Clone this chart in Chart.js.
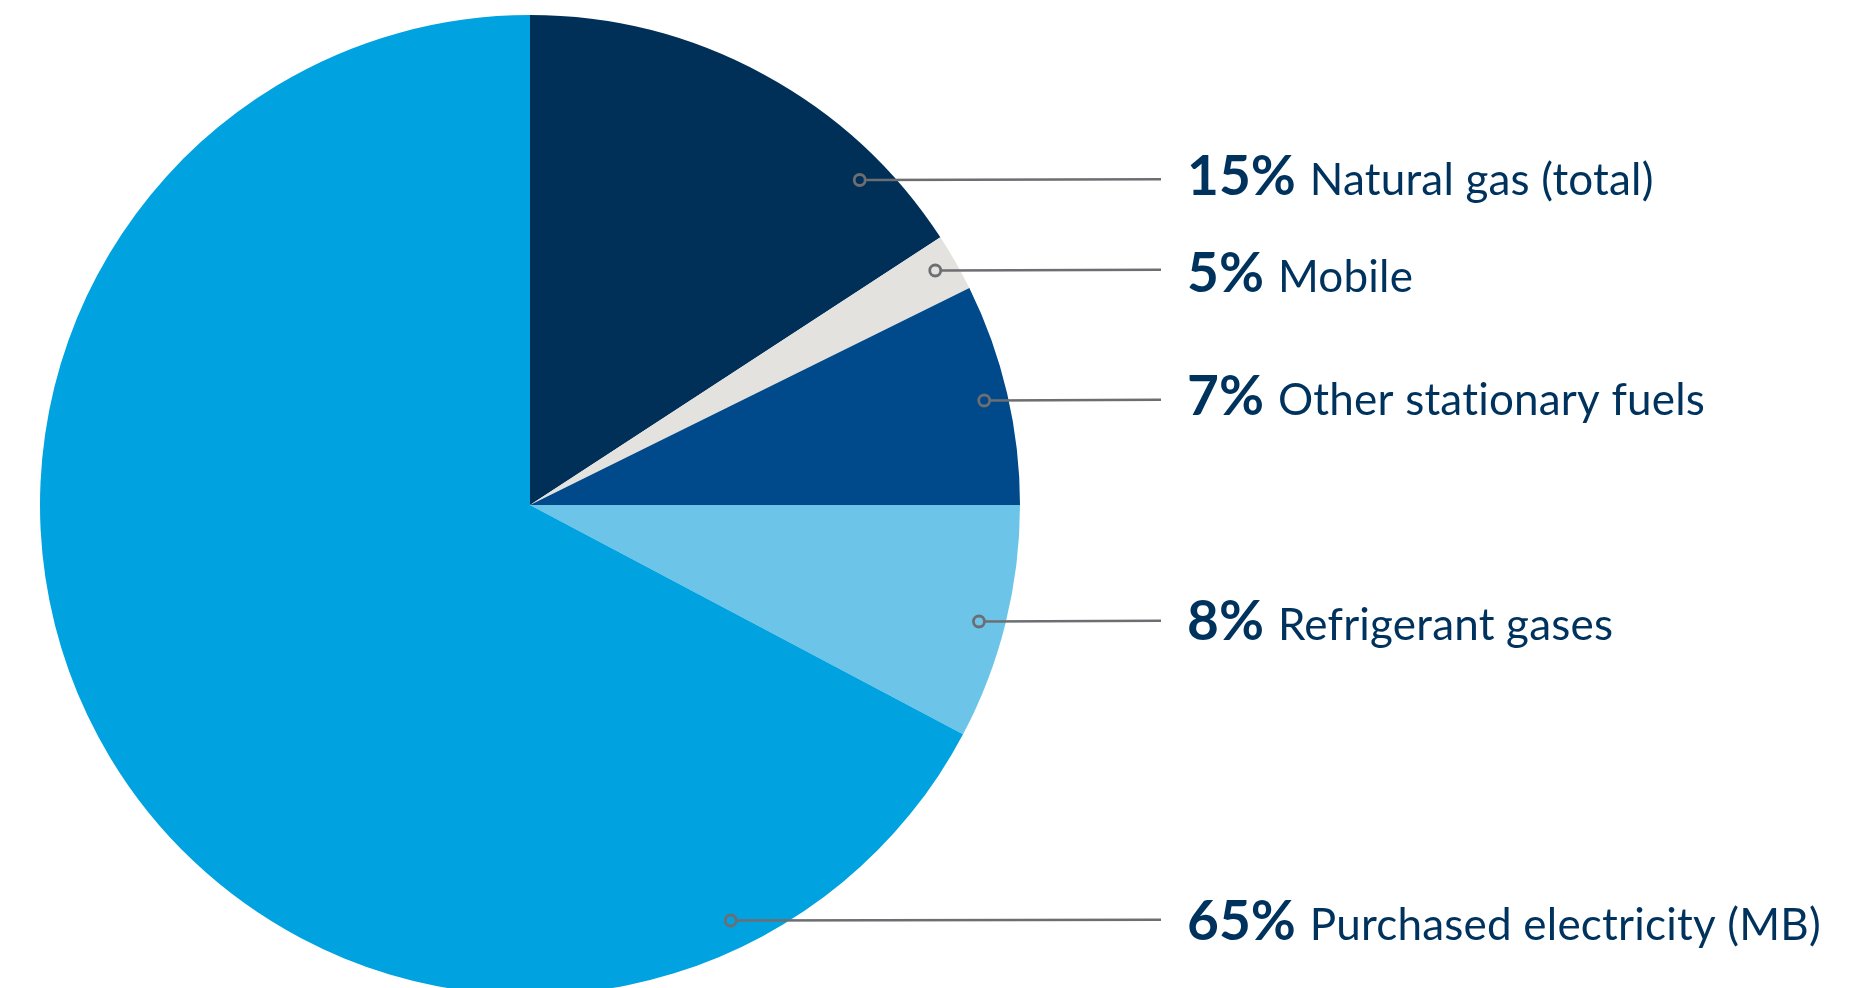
<!DOCTYPE html>
<html>
<head>
<meta charset="utf-8">
<script src="https://cdn.jsdelivr.net/npm/chart.js@4/dist/chart.umd.min.js"></script>
<style>
  html, body { margin: 0; padding: 0; background: #fff; overflow: hidden; }
  #wrap { width: 1860px; height: 988px; position: relative; }
</style>
</head>
<body>
<div id="wrap"><canvas id="myChart"></canvas></div>
<script>
const ctx = document.querySelector("#myChart")

const categories = ["Natural gas (total)", "Mobile", "Other stationary fuels", "Refrigerant gases", "Purchased electricity (MB)"];
const shares = [15.8, 1.9, 7.3, 7.75, 67.25];
// percentages printed in the labels
const pctLabels = ["15%", "5%", "7%", "8%", "65%"];
const colors = ["#003057", "#e3e2de", "#00498a", "#6cc5e8", "#00a3e0"];

// label layout: leader line row, text baseline, dot inset from the pie edge
const lineY = [180, 270.5, 400.5, 621.5, 920.5];
const textY = [195, 292, 415, 640, 940];
const dotInset = [37, 25, 24.5, 27, 59];

const leaderLabels = {
  id: 'leaderLabels',
  afterDraw(chart) {
    const c = chart.ctx;
    const arcs = chart.getDatasetMeta(0).data;
    c.save();
    arcs.forEach((arc, i) => {
      const r = arc.outerRadius;
      const dy = lineY[i] - arc.y;
      const dotX = arc.x + Math.sqrt(r * r - dy * dy) - dotInset[i];
      const endX = 1161;
      c.strokeStyle = '#6d6e71';
      c.lineWidth = 2.5;
      c.beginPath();
      c.moveTo(dotX + 6, lineY[i]);
      c.lineTo(endX, lineY[i] - 0.8);
      c.stroke();
      c.lineWidth = 2.8;
      c.beginPath();
      c.arc(dotX, lineY[i], 5.5, 0, Math.PI * 2);
      c.stroke();

      const tx = 1187;
      c.fillStyle = '#00325e';
      c.textBaseline = 'alphabetic';
      c.letterSpacing = '0px';
      c.font = 'bold 55px Lato';
      c.fillText(pctLabels[i], tx, textY[i]);
      const w = c.measureText(pctLabels[i]).width;
      c.font = '44px Lato';
      c.letterSpacing = '0.2px';
      c.fillText(categories[i], tx + w + 14, textY[i]);
    });
    c.restore();
  }
};

const data = {
  labels: categories,
  datasets: [{
    data: shares,
    backgroundColor: colors,
    borderWidth: 0,
    radius: 490,
  }]
};

const config = {
  type: 'pie',
  data: data,
  options: {
    responsive: true,
    maintainAspectRatio: false,
    animation: false,
    layout: { padding: { left: 40, right: 840, top: 22, bottom: 0 } },
    plugins: { legend: { display: false }, tooltip: { enabled: false } }
  },
  plugins: [leaderLabels]
};

new Chart(ctx, config)
</script>
</body>
</html>
